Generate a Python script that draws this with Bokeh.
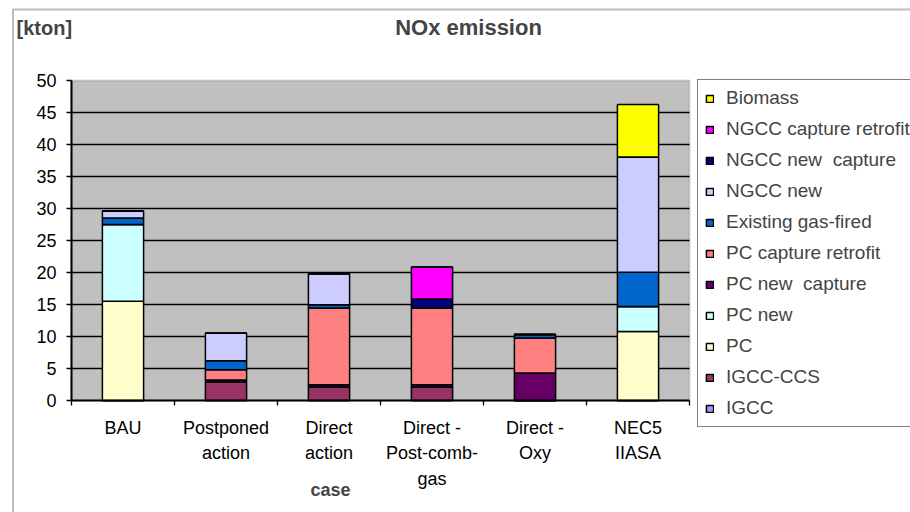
from bokeh.plotting import figure
from bokeh.models import (ColumnDataSource, FixedTicker, Label, Legend, LegendItem,
                          BoxAnnotation, Range1d)
from bokeh.embed import file_html
from bokeh.resources import INLINE

# Cases on the x axis
cases = ["BAU", "Postponed\naction", "Direct\naction", "Direct -\nPost-comb-\ngas",
         "Direct -\nOxy", "NEC5\nIIASA"]

# NOx emission per technology [kton], stacked bottom to top
igcc = [0, 0, 0, 0, 0, 0]
igcc_ccs = [0, 2.9, 2.1, 2.1, 0, 0]
pc = [15.5, 0, 0, 0, 0, 10.8]
pc_new = [12.0, 0, 0, 0, 0, 3.9]
pc_new_capture = [0, 0.3, 0.35, 0.35, 4.3, 0]
pc_capture_retrofit = [0, 1.6, 12.0, 12.0, 5.45, 0]
existing_gas = [1.0, 1.4, 0.5, 0, 0.55, 5.35]
ngcc_new = [1.1, 4.3, 4.85, 0, 0, 18.0]
ngcc_new_capture = [0, 0, 0, 1.4, 0, 0]
ngcc_capture_retrofit = [0, 0, 0, 5.0, 0, 0]
biomass = [0, 0, 0, 0, 0, 8.2]

series = ["IGCC", "IGCC-CCS", "PC", "PC new", "PC new  capture", "PC capture retrofit",
          "Existing gas-fired", "NGCC new", "NGCC new  capture",
          "NGCC capture retrofit", "Biomass"]
colors = ["#9999FF", "#993366", "#FFFFCC", "#CCFFFF", "#660066", "#FF8080",
          "#0066CC", "#CCCCFF", "#000080", "#FF00FF", "#FFFF00"]
columns = [igcc, igcc_ccs, pc, pc_new, pc_new_capture, pc_capture_retrofit,
           existing_gas, ngcc_new, ngcc_new_capture, ngcc_capture_retrofit, biomass]

y_ticks = [0, 5, 10, 15, 20, 25, 30, 35, 40, 45, 50]

keys = [f"s{i}" for i in range(len(series))]
data = {"x": [i + 0.5 for i in range(len(cases))]}
for k, col in zip(keys, columns):
    data[k] = col
source = ColumnDataSource(data)

FONT = "Liberation Sans"
W, H = 910, 512
# pixel geometry of the plotting area inside the canvas
PX_LEFT, PX_RIGHT, PX_TOP, PX_BOTTOM = 71, 689, 80, 400
N = len(cases)
YMAX = 50
sx = (PX_RIGHT - PX_LEFT) / N       # px per category
sy = (PX_BOTTOM - PX_TOP) / YMAX    # px per kton


def dx(px):
    return (px - PX_LEFT) / sx


def dy(py):
    return (PX_BOTTOM - py) / sy


p = figure(width=W, height=H, output_backend="svg", toolbar_location=None,
           title=None, x_range=Range1d(dx(0), dx(W)), y_range=Range1d(dy(H), dy(0)),
           min_border=0)
p.background_fill_color = "white"
p.border_fill_color = "white"
p.outline_line_color = None
p.xgrid.grid_line_color = None
p.ygrid.grid_line_color = None

# Grey plotting area
p.add_layout(BoxAnnotation(left=0, right=N, bottom=0, top=YMAX, level="underlay",
                           fill_color="#C0C0C0", fill_alpha=1,
                           line_color="#808080", line_width=2))
# Horizontal gridlines
gy = [t for t in y_ticks if 0 < t < YMAX]
p.segment(x0=[0] * len(gy), x1=[N] * len(gy), y0=gy, y1=gy,
          line_color="black", line_width=1.3)

renderers = p.vbar_stack(keys, x="x", width=0.4, source=source, color=colors,
                         line_color="black", line_width=1.5)

# Axes pinned to the plotting area
p.xaxis.fixed_location = 0
p.xaxis.bounds = (0, N)
p.xaxis.ticker = FixedTicker(ticks=[i + 0.5 for i in range(N)],
                             minor_ticks=list(range(N + 1)))
p.xaxis.major_label_overrides = {i + 0.5: c for i, c in enumerate(cases)}
p.xaxis.major_tick_line_color = None
p.xaxis.major_tick_out = 0
p.xaxis.minor_tick_line_color = "black"
p.xaxis.minor_tick_line_width = 1.3
p.xaxis.minor_tick_out = 5
p.xaxis.minor_tick_in = 0
p.xaxis.axis_line_color = "black"
p.xaxis.axis_line_width = 2
p.xaxis.major_label_text_font = FONT
p.xaxis.major_label_text_font_size = "18px"
p.xaxis.major_label_text_line_height = 1.28
p.xaxis.major_label_standoff = 12
p.xaxis.major_label_text_color = "black"

p.yaxis.fixed_location = 0
p.yaxis.bounds = (0, YMAX)
p.yaxis.ticker = FixedTicker(ticks=y_ticks)
p.yaxis.minor_tick_line_color = None
p.yaxis.major_tick_out = 5
p.yaxis.major_tick_in = 0
p.yaxis.major_tick_line_width = 1.3
p.yaxis.axis_line_color = "black"
p.yaxis.axis_line_width = 2
p.yaxis.major_label_text_font = FONT
p.yaxis.major_label_text_font_size = "18px"
p.yaxis.major_label_standoff = 10
p.yaxis.major_label_text_color = "black"

# Titles
p.add_layout(Label(x=dx(468), y=dy(27), text="NOx emission", text_font=FONT,
                   text_font_size="22px", text_font_style="bold",
                   text_align="center", text_baseline="middle"))
p.add_layout(Label(x=dx(16), y=dy(27), text="[kton]", text_font=FONT,
                   text_font_size="20px", text_font_style="bold",
                   text_align="left", text_baseline="middle"))
p.add_layout(Label(x=dx(330), y=dy(489), text="case", text_font=FONT,
                   text_font_size="18px", text_font_style="bold",
                   text_align="center", text_baseline="middle"))

# Outer chart border
p.add_layout(BoxAnnotation(left=dx(12.5), right=dx(W + 50), bottom=dy(H + 50),
                           top=dy(9), level="underlay", fill_alpha=0,
                           line_color="#202020", line_width=2))

# Legend, top entry is the top of the stack
items = [LegendItem(label=s, renderers=[r]) for s, r in zip(series, renderers)][::-1]
legend = Legend(items=items, location=(697, H - 427), label_text_font=FONT,
                label_text_font_size="19px", glyph_width=9, glyph_height=9,
                label_height=20, spacing=9, padding=7, margin=0,
                label_standoff=12, border_line_color="black",
                border_line_width=1.5, background_fill_color="white",
                background_fill_alpha=1)
p.add_layout(legend)

open("out.html", "w").write(file_html(p, INLINE))
